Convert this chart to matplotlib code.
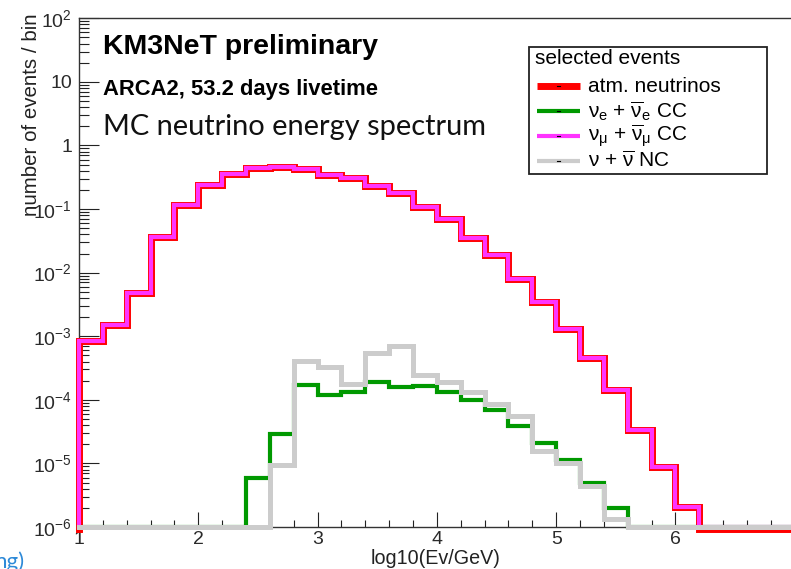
import matplotlib
matplotlib.use("Agg")
import matplotlib.pyplot as plt
import numpy as np
from matplotlib.ticker import FixedLocator, MultipleLocator, LogLocator, NullFormatter, FuncFormatter
from matplotlib.lines import Line2D
from matplotlib.patches import Rectangle

plt.rcParams['font.family'] = ['Liberation Sans', 'DejaVu Sans']
plt.rcParams['mathtext.fontset'] = 'custom'
plt.rcParams['mathtext.rm'] = 'Liberation Sans'
plt.rcParams['mathtext.it'] = 'Liberation Sans'
plt.rcParams['mathtext.bf'] = 'Liberation Sans:bold'

# ---------------- data ----------------
bin_edges = [1.0, 1.2, 1.4, 1.6, 1.8, 2.0, 2.2, 2.4, 2.6, 2.8,
             3.0, 3.2, 3.4, 3.6, 3.8, 4.0, 4.2, 4.4, 4.6, 4.8,
             5.0, 5.2, 5.4, 5.6, 5.8, 6.0, 6.2, 6.4, 6.6, 6.8, 7.0]

atm_neutrinos = [8.5e-4, 1.48e-3, 4.8e-3, 0.0366, 0.114, 0.235, 0.35, 0.44, 0.46, 0.42,
                 0.34, 0.31, 0.23, 0.18, 0.108, 0.069, 0.035, 0.0187, 0.0080, 0.0035,
                 1.31e-3, 4.6e-4, 1.45e-4, 3.4e-5, 8.7e-6, 2.1e-6, 0, 0, 0, 0]

numu_cc = [8.5e-4, 1.48e-3, 4.8e-3, 0.0366, 0.114, 0.235, 0.35, 0.44, 0.46, 0.42,
           0.34, 0.31, 0.23, 0.18, 0.108, 0.069, 0.035, 0.0187, 0.0080, 0.0035,
           1.31e-3, 4.6e-4, 1.45e-4, 3.4e-5, 8.7e-6, 2.1e-6, 0, 0, 0, 0]

nue_cc = [0, 0, 0, 0, 0, 0, 0, 5.8e-6, 2.9e-5, 1.7e-4,
          1.2e-4, 1.35e-4, 1.9e-4, 1.6e-4, 1.65e-4, 1.35e-4, 1.0e-4, 6.9e-5, 3.9e-5, 2.06e-5,
          1.15e-5, 5.0e-6, 2.0e-6, 0, 0, 0, 0, 0, 0, 0]

nu_nc = [0, 0, 0, 0, 0, 0, 0, 0, 9.4e-6, 4.1e-4,
         3.3e-4, 1.8e-4, 5.5e-4, 6.9e-4, 2.45e-4, 1.9e-4, 1.35e-4, 8.5e-5, 5.5e-5, 1.56e-5,
         1.02e-5, 4.4e-6, 1.35e-6, 0, 0, 0, 0, 0, 0, 0]

y_decades = [1e-6, 1e-5, 1e-4, 1e-3, 1e-2, 1e-1, 1, 10, 100]
x_major = [1, 2, 3, 4, 5, 6, 7]
x_labels = ['1', '2', '3', '4', '5', '6', '']

legend_title = 'selected events'
legend_labels = ['atm. neutrinos',
                 r'$\nu_{e}$ + $\overline{\nu}_{e}$ CC',
                 r'$\nu_{\mu}$ + $\overline{\nu}_{\mu}$ CC',
                 r'$\nu$ + $\overline{\nu}$ NC']

# ---------------- style ----------------
RED = '#ff0000'
GREEN = '#009900'
MAGENTA = '#ff33ff'
GRAY = '#cccccc'
DARK = '#222222'

W, H = 791, 569
fig = plt.figure(figsize=(W / 100, H / 100), dpi=100)


def fx(x):
    return x / W


def fy(y):
    return 1 - y / H


x0, x1 = 79, 794.8
ytop, ybot = 18.3, 527
ax = fig.add_axes([fx(x0), fy(ybot), (x1 - x0) / W, (ybot - ytop) / H])
ymin, ymax = y_decades[0], y_decades[-1]
ax.set_xlim(bin_edges[0], bin_edges[-1])
ax.set_yscale('log')
ax.set_ylim(ymin, ymax)
px_per_decade = (ybot - ytop) / 8.0


def draw(vals, color, lw, z, floor_shift_px=0.0):
    # empty bins are drawn along the frame bottom (ROOT style)
    floor = ymin * 10 ** (-floor_shift_px / px_per_decade)
    v = np.asarray(vals, dtype=float)
    v = np.where(v > 0, v, floor)
    ax.stairs(v, bin_edges, baseline=floor, color=color, lw=lw, zorder=z,
              clip_on=False, joinstyle='miter', capstyle='projecting')


draw(atm_neutrinos, RED, 5.0, 3, floor_shift_px=2.0)
draw(nue_cc, GREEN, 3.0, 4)
draw(numu_cc, MAGENTA, 3.0, 5)
draw(nu_nc, GRAY, 3.6, 6)

# axes / ticks
for s in ['left', 'bottom', 'top', 'right']:
    ax.spines[s].set_color('#333333')
    ax.spines[s].set_linewidth(1.0)

ax.yaxis.set_major_locator(FixedLocator(y_decades))
ax.yaxis.set_minor_locator(LogLocator(base=10, subs=np.arange(2, 10), numticks=100))
ax.yaxis.set_minor_formatter(NullFormatter())


def yfmt(v, pos):
    e = int(round(np.log10(v)))
    if e == 0:
        return '1'
    if e == 1:
        return '10'
    return r'$10^{%d}$' % e


ax.yaxis.set_major_formatter(FuncFormatter(yfmt))
ax.xaxis.set_major_locator(FixedLocator(x_major))
ax.xaxis.set_minor_locator(MultipleLocator(0.2))
ax.set_xticklabels(x_labels)

ax.tick_params(axis='both', which='both', direction='in', colors=DARK, width=0.8,
               labelsize=14, labelcolor='#2a2a2a')
ax.tick_params(axis='y', which='major', length=14.5, pad=5)
ax.tick_params(axis='y', which='minor', length=7.5)
ax.tick_params(axis='x', which='major', length=10.5, pad=3)
ax.tick_params(axis='x', which='minor', length=5)
ax.tick_params(top=False, right=False, which='both')

# axis titles
fig.text(fx(32), fy(13), 'number of events / bin', rotation=90, ha='center', va='top',
         fontsize=14.8, color=DARK)
fig.text(fx(436), fy(559), 'log10(Ev/GeV)', ha='center', va='center', fontsize=14.2, color=DARK)

# annotations
fig.text(fx(103), fy(47), 'KM3NeT preliminary', fontsize=20.5, weight='bold', va='center',
         color='black')
fig.text(fx(103), fy(89), 'ARCA2, 53.2 days livetime', fontsize=15.8, weight='bold',
         va='center', color='black')
fig.text(fx(103), fy(127), 'MC neutrino energy spectrum', fontsize=20.9, va='center',
         family=['Lato', 'DejaVu Sans'], color='#111111')

# legend box (manual, ROOT-like)
lx0, lx1, ly0, ly1 = 529, 767, 47, 174
fig.add_artist(Rectangle((fx(lx0), fy(ly1)), (lx1 - lx0) / W, (ly1 - ly0) / H,
                         transform=fig.transFigure, facecolor='white',
                         edgecolor=DARK, lw=1.3, zorder=10))
fig.text(fx(535), fy(58), legend_title, fontsize=15, va='center', zorder=11, color='black')
entry_colors = [RED, GREEN, MAGENTA, GRAY]
entry_lw = [5.0, 3.0, 3.0, 3.0]
entry_y = [86, 111, 136, 161]
for lab, c, lw, yy in zip(legend_labels, entry_colors, entry_lw, entry_y):
    fig.add_artist(Line2D([fx(537), fx(580)], [fy(yy), fy(yy)], transform=fig.transFigure,
                          color=c, lw=lw, solid_capstyle='butt', zorder=11))
    fig.add_artist(Line2D([fx(557), fx(560)], [fy(yy), fy(yy)], transform=fig.transFigure,
                          color='black', lw=0.8, zorder=12))
    fig.text(fx(588), fy(yy), lab, fontsize=15, va='center', zorder=11, color='black')

# slide remnant text at the bottom-left corner
fig.text(fx(25), fy(568), 'ng)', ha='right', va='baseline', fontsize=16,
         family=['Lato', 'DejaVu Sans'], color='#2e8ad8')

fig.savefig('out.png', dpi=100)
